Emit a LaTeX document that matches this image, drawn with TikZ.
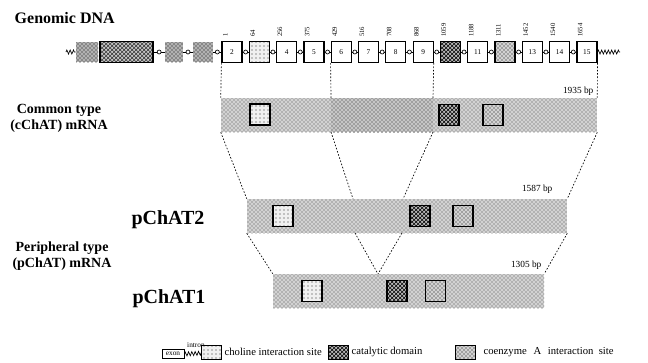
\documentclass[tikz,border=0pt]{standalone}
\usepackage{fontspec}
\setmainfont{Liberation Serif}
\usetikzlibrary{positioning,calc,patterns,decorations.pathmorphing}

\begin{document}
\begin{tikzpicture}[
    x=0.75pt, y=-0.75pt,
    exon/.style={rectangle, draw, line width=0.9pt, fill=white, minimum width=15pt, minimum height=15.75pt, inner sep=0pt, font=\fontsize{5.5}{5.5}\selectfont},
    choline/.style={exon, preaction={fill=gray!12}, pattern=dots, pattern color=black!85},
    catalytic/.style={exon, preaction={fill=gray!55}, pattern=crosshatch, pattern color=black},
    coenzyme/.style={exon, preaction={fill=gray!35}, pattern=crosshatch dots, pattern color=black},
    blob/.style={rectangle, inner sep=0pt, minimum height=15pt, preaction={fill=gray!60}, pattern=crosshatch dots, pattern color=black},
    bigbox/.style={rectangle, draw, line width=0.8pt, inner sep=0pt, minimum width=39.75pt, minimum height=15.75pt, preaction={fill=gray!45}, pattern=crosshatch, pattern color=black!80},
    mrna/.style={rectangle, inner sep=0pt, minimum height=25.5pt, preaction={fill=gray!35}, pattern=crosshatch dots, pattern color=black!70},
    darkpart/.style={rectangle, inner sep=0pt, minimum height=25.5pt, preaction={fill=gray!45}, pattern=crosshatch dots, pattern color=black!85},
    knot/.style={circle, draw, line width=0.5pt, fill=white, minimum size=3pt, inner sep=0pt},
    link/.style={line width=0.6pt},
    zz/.style={line width=0.5pt, decorate, decoration={zigzag, segment length=2.5pt, amplitude=1.5pt}},
    splice/.style={line width=0.5pt, dash pattern=on 1.2pt off 1.3pt},
    toplab/.style={rotate=90, anchor=west, inner sep=0.5pt, font=\fontsize{5}{5}\selectfont},
    sidelab/.style={align=center, font=\bfseries\fontsize{10.5}{12}\selectfont},
    isoform/.style={font=\bfseries\fontsize{15}{15}\selectfont},
    bplab/.style={anchor=south east, inner sep=0.5pt, font=\fontsize{7}{7}\selectfont},
    legtext/.style={anchor=west, inner sep=1pt, font=\fontsize{8}{8}\selectfont}
]
\useasboundingbox (0,0) rectangle (648,362);

% Genomic DNA
\node[anchor=west, font=\bfseries\fontsize{12}{12}\selectfont] (genomic) at (10,18) {Genomic DNA};

\coordinate (lead) at (66,52);
\node[blob, minimum width=16.5pt] (b1) at (87,52) {};
\node[bigbox] (b2) at (126.5,52) {};
\node[blob, minimum width=13.5pt] (b3) at (174,52) {};
\node[blob, minimum width=15pt] (b4) at (203,52) {};

\node[exon] (e1) at (232,52) {2};
\node[choline] (e2) at (259.3,52) {};
\node[exon] (e3) at (286.6,52) {4};
\node[exon] (e4) at (313.9,52) {5};
\node[exon] (e5) at (341.2,52) {6};
\node[exon] (e6) at (368.5,52) {7};
\node[exon] (e7) at (395.8,52) {8};
\node[exon] (e8) at (423.1,52) {9};
\node[catalytic] (e9) at (450.4,52) {};
\node[exon] (e10) at (477.7,52) {11};
\node[coenzyme] (e11) at (505,52) {};
\node[exon] (e12) at (532.3,52) {13};
\node[exon] (e13) at (559.6,52) {14};
\node[exon] (e14) at (586.9,52) {15};
\coordinate (tail) at (620,52);

% positions above exons
\node[toplab] (t1) at ($(e1.north west)+(4,-3)$) {1};
\node[toplab] (t2) at ($(e2.north west)+(4,-3)$) {64};
\node[toplab] (t3) at ($(e3.north west)+(4,-3)$) {256};
\node[toplab] (t4) at ($(e4.north west)+(4,-3)$) {375};
\node[toplab] (t5) at ($(e5.north west)+(4,-3)$) {429};
\node[toplab] (t6) at ($(e6.north west)+(4,-3)$) {516};
\node[toplab] (t7) at ($(e7.north west)+(4,-3)$) {708};
\node[toplab] (t8) at ($(e8.north west)+(4,-3)$) {868};
\node[toplab] (t9) at ($(e9.north west)+(4,-3)$) {1059};
\node[toplab] (t10) at ($(e10.north west)+(4,-3)$) {1188};
\node[toplab] (t11) at ($(e11.north west)+(4,-3)$) {1311};
\node[toplab] (t12) at ($(e12.north west)+(4,-3)$) {1452};
\node[toplab] (t13) at ($(e13.north west)+(4,-3)$) {1540};
\node[toplab] (t14) at ($(e14.north west)+(4,-3)$) {1654};

% Introns
\draw[zz] (lead) -- (b1.west);
\draw[link] (b2.east) -- node[knot]{} (b3.west);
\draw[link] (b3.east) -- node[knot]{} (b4.west);
\draw[link] (b4.east) -- node[knot]{} (e1.west);
\draw[link] (e1) -- node[knot]{} (e2);
\draw[link] (e2) -- node[knot]{} (e3);
\draw[link] (e3) -- node[knot]{} (e4);
\draw[link] (e4) -- node[knot]{} (e5);
\draw[link] (e5) -- node[knot]{} (e6);
\draw[link] (e6) -- node[knot]{} (e7);
\draw[link] (e7) -- node[knot]{} (e8);
\draw[link] (e8) -- node[knot]{} (e9);
\draw[link] (e9) -- node[knot]{} (e10);
\draw[link] (e10) -- node[knot]{} (e11);
\draw[link] (e11) -- node[knot]{} (e12);
\draw[link] (e12) -- node[knot]{} (e13);
\draw[link] (e13) -- node[knot]{} (e14);
\draw[zz] (e14.east) -- (tail);

% Common type mRNA
\node[sidelab] (common) at (59,118) {Common type\\(cChAT) mRNA};
\node[mrna, minimum width=282pt] (cchat) at (409,115) {};
\node[darkpart, minimum width=76.5pt] (cmid) at (382,115) {};
\node[choline] (c1) at (260,114.5) {};
\node[catalytic] (c2) at (449,115) {};
\node[coenzyme] (c3) at (493,115) {};
\node[bplab] (cbp) at ($(cchat.north east)+(-3,-1)$) {1935 bp};

% pChAT2
\node[isoform] (p2name) at (168,220) {pChAT2};
\node[mrna, minimum width=240pt] (p2) at (407,216) {};
\node[choline] (p2a) at (283,216) {};
\node[catalytic] (p2b) at (420,216) {};
\node[coenzyme] (p2c) at (463,216) {};
\node[bplab] (p2bp) at ($(p2.north east)+(-14,-4)$) {1587 bp};

% Peripheral type / pChAT1
\node[sidelab] (peripheral) at (62,256) {Peripheral type\\(pChAT) mRNA};
\node[isoform] (p1name) at (169,299) {pChAT1};
\node[mrna, minimum width=203.25pt] (p1) at (408.5,291) {};
\node[choline] (p1a) at (312,291) {};
\node[catalytic] (p1b) at (397,291) {};
\node[coenzyme] (p1c) at (435.5,291) {};
\node[bplab] (p1bp) at ($(p1.north east)+(-2,-3)$) {1305 bp};

% splice points
\coordinate (s1) at (331,98);
\coordinate (s2) at (433,98);
\coordinate (s3) at (331,132);
\coordinate (s4) at (433,132);
\coordinate (s5) at (353,199);
\coordinate (s6) at (403,199);
\coordinate (s7) at (355,233);
\coordinate (s8) at (402,233);
\coordinate (s9) at (378,274);

% Dotted lines - genomic to cChAT
\draw[splice] (e1.south west) -- (cchat.north west);
\draw[splice] (e5.south west) -- (s1);
\draw[splice] (e8.south east) -- (s2);
\draw[splice] (e14.south east) -- (cchat.north east);

% Dotted lines - cChAT to pChAT2
\draw[splice] (cchat.south west) -- (p2.north west);
\draw[splice] (s3) -- (s5);
\draw[splice] (s4) -- (s6);
\draw[splice] (cchat.south east) -- (p2.north east);

% Dotted lines - pChAT2 to pChAT1
\draw[splice] (p2.south west) -- (p1.north west);
\draw[splice] (s7) -- (s9);
\draw[splice] (s8) -- (s9);
\draw[splice] (p2.south east) -- (p1.north east);

% Legend
\node[rectangle, draw, line width=0.6pt, minimum width=16.5pt, minimum height=7pt, inner sep=0pt, font=\fontsize{5.5}{5.5}\selectfont] (lexon) at (173,354) {exon};
\coordinate (lint) at (205,353);
\draw[zz] (lexon.east) -- (lint);
\node[inner sep=0pt, font=\fontsize{5.5}{5.5}\selectfont] (lintron) at (196,345) {intron};
\node[choline, line width=0.6pt, minimum height=10.5pt] (lcho) at (211,352) {};
\node[legtext] (lchot) at (223,352) {choline interaction site};
\node[catalytic, line width=0.6pt, minimum height=10.5pt] (lcat) at (338,352) {};
\node[legtext] (lcatt) at (350,352) {catalytic domain};
\node[coenzyme, line width=0.6pt, minimum height=10.5pt] (lcoa) at (465,352) {};
\node[legtext] (lcoat) at (482,352) {coenzyme\hspace{5pt}A\hspace{5pt}interaction\hspace{4pt}site};

\end{tikzpicture}
\end{document}
